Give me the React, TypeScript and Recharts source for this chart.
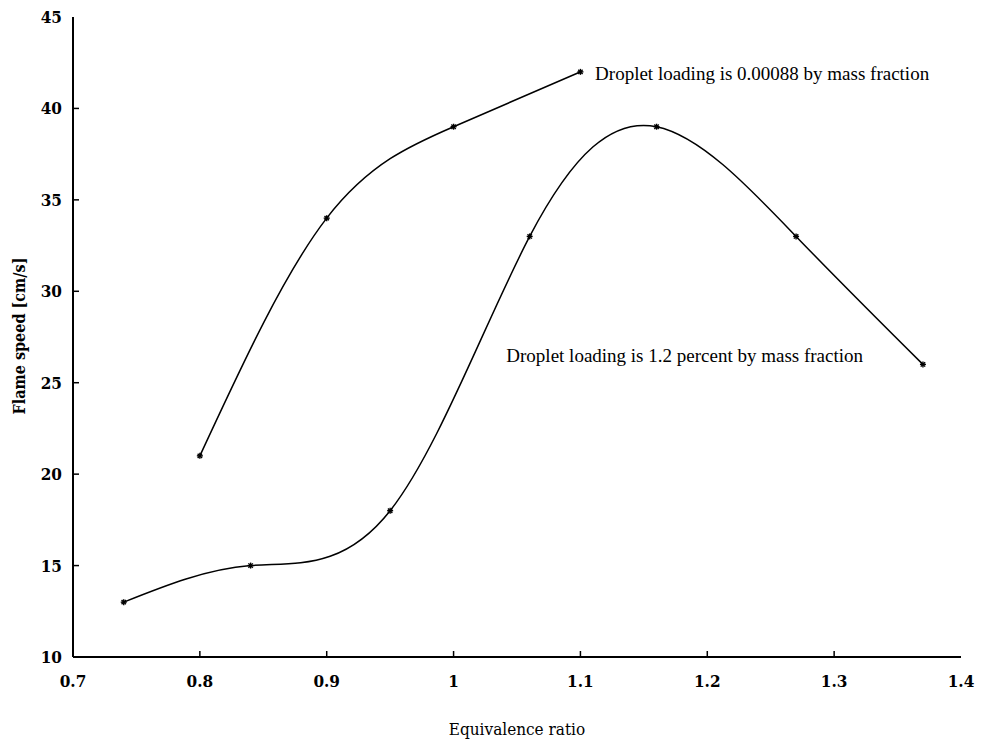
import React from "react";
import {
  LineChart,
  Line,
  XAxis,
  YAxis,
  ReferenceDot,
  Label,
} from "recharts";

// equivalence ratio vs flame speed [cm/s]
const lowLoadingPhi = [0.8, 0.9, 1.0, 1.1];
const lowLoadingSpeed = [21, 34, 39, 42];

const highLoadingPhi = [0.74, 0.84, 0.95, 1.06, 1.16, 1.27, 1.37];
const highLoadingSpeed = [13, 15, 18, 33, 39, 33, 26];

const xTicks = [0.7, 0.8, 0.9, 1.0, 1.1, 1.2, 1.3, 1.4];
const yTicks = [10, 15, 20, 25, 30, 35, 40, 45];

const lowLabel = "Droplet loading is 0.00088 by mass fraction";
const highLabel = "Droplet loading is 1.2 percent by mass fraction";

const lowData = lowLoadingPhi.map((phi, i) => ({ phi, speed: lowLoadingSpeed[i] }));
const highData = highLoadingPhi.map((phi, i) => ({ phi, speed: highLoadingSpeed[i] }));

const X_DOMAIN = [0.7, 1.4];
const Y_DOMAIN = [10, 45];

const FONT = "DejaVu Serif Condensed, DejaVu Serif";
const noteFont = { fontFamily: "Liberation Serif", fontSize: 19, fill: "#000" };
const frame = { stroke: "#000", strokeWidth: 2 };
const TICK = 6;

function Star(props: any) {
  const { cx, cy } = props;
  if (cx == null || cy == null) return null;
  const r = 3;
  return (
    <g key={`${cx}-${cy}`} stroke="#000" strokeWidth={1.4}>
      <line x1={cx - r} y1={cy} x2={cx + r} y2={cy} />
      <line x1={cx} y1={cy - r} x2={cx} y2={cy + r} />
      <line x1={cx - 2.2} y1={cy - 2.2} x2={cx + 2.2} y2={cy + 2.2} />
      <line x1={cx - 2.2} y1={cy + 2.2} x2={cx + 2.2} y2={cy - 2.2} />
    </g>
  );
}

const fmt = (v: number) => String(Math.round(v * 10) / 10);

const isEdge = (v: number, ticks: number[]) =>
  v === ticks[0] || v === ticks[ticks.length - 1];

// axis ticks: tickSize/tickMargin are 0, so (x, y) sits on the axis line;
// each tick draws an inward stub plus (for bottom/left) its label
function BottomTick(props: any) {
  const { x, y, payload } = props;
  const v = payload.value;
  return (
    <g>
      {!isEdge(v, xTicks) && (
        <line x1={x} y1={y} x2={x} y2={y - TICK} stroke="#000" strokeWidth={1.5} />
      )}
      <text x={x} y={y + 30} textAnchor="middle" fontFamily={FONT} fontSize={17} fontWeight={600} fill="#000">
        {fmt(v)}
      </text>
    </g>
  );
}

function TopTick(props: any) {
  const { x, y, payload } = props;
  if (isEdge(payload.value, xTicks)) return <g />;
  return <line x1={x} y1={y} x2={x} y2={y + TICK} stroke="#000" strokeWidth={1.5} />;
}

function LeftTick(props: any) {
  const { x, y, payload } = props;
  const v = payload.value;
  return (
    <g>
      {!isEdge(v, yTicks) && (
        <line x1={x} y1={y} x2={x + TICK} y2={y} stroke="#000" strokeWidth={1.5} />
      )}
      <text x={x - 11} y={y + 6} textAnchor="end" fontFamily={FONT} fontSize={17} fontWeight={600} fill="#000">
        {v}
      </text>
    </g>
  );
}

function RightTick(props: any) {
  const { x, y, payload } = props;
  if (isEdge(payload.value, yTicks)) return <g />;
  return <line x1={x} y1={y} x2={x - TICK} y2={y} stroke="#000" strokeWidth={1.5} />;
}

export default function App() {
  return (
    <div style={{ position: "absolute", left: 0, top: 0, background: "#fff" }}>
      <LineChart
        width={981}
        height={753}
        margin={{ top: 17, right: 20, bottom: 56, left: 23 }}
      >
        <XAxis
          xAxisId="bottom"
          dataKey="phi"
          type="number"
          domain={X_DOMAIN}
          ticks={xTicks}
          interval={0}
          orientation="bottom"
          height={40}
          tickSize={0}
          tickMargin={0}
          tickLine={false}
          axisLine={frame}
          tick={BottomTick}
        >
          <Label
            value="Equivalence ratio"
            position="bottom"
            offset={26}
            style={{ fontFamily: FONT, fontSize: 17, fill: "#000" }}
          />
        </XAxis>
        <XAxis
          xAxisId="top"
          type="number"
          domain={X_DOMAIN}
          ticks={xTicks}
          interval={0}
          orientation="top"
          height={0}
          tickSize={0}
          tickMargin={0}
          tickLine={false}
          axisLine={frame}
          tick={TopTick}
        />
        <YAxis
          yAxisId="left"
          type="number"
          domain={Y_DOMAIN}
          ticks={yTicks}
          interval={0}
          orientation="left"
          width={50}
          tickSize={0}
          tickMargin={0}
          tickLine={false}
          axisLine={frame}
          tick={LeftTick}
        >
          <Label
            content={() => (
              <text
                x={19}
                y={336}
                transform="rotate(-90 19 336)"
                textAnchor="middle"
                dominantBaseline="central"
                fontFamily={FONT}
                fontWeight="bold"
                fontSize={16}
                fill="#000"
              >
                Flame speed [cm/s]
              </text>
            )}
          />
        </YAxis>
        <YAxis
          yAxisId="right"
          type="number"
          domain={Y_DOMAIN}
          ticks={yTicks}
          interval={0}
          orientation="right"
          width={0}
          tickSize={0}
          tickMargin={0}
          tickLine={false}
          axisLine={frame}
          tick={RightTick}
        />

        <Line
          xAxisId="bottom"
          yAxisId="left"
          data={lowData}
          dataKey="speed"
          type="natural"
          stroke="#000"
          strokeWidth={1.5}
          dot={Star}
          activeDot={false}
          isAnimationActive={false}
        />
        <Line
          xAxisId="bottom"
          yAxisId="left"
          data={highData}
          dataKey="speed"
          type="natural"
          stroke="#000"
          strokeWidth={1.5}
          dot={Star}
          activeDot={false}
          isAnimationActive={false}
        />

        <ReferenceDot
          xAxisId="bottom"
          yAxisId="left"
          x={1.11}
          y={41.9}
          r={0}
          fill="none"
          stroke="none"
          label={{ value: lowLabel, position: "right", offset: 2, style: noteFont }}
        />
        <ReferenceDot
          xAxisId="bottom"
          yAxisId="left"
          x={1.04}
          y={26.5}
          r={0}
          fill="none"
          stroke="none"
          label={{ value: highLabel, position: "right", offset: 2, style: noteFont }}
        />
      </LineChart>
    </div>
  );
}
